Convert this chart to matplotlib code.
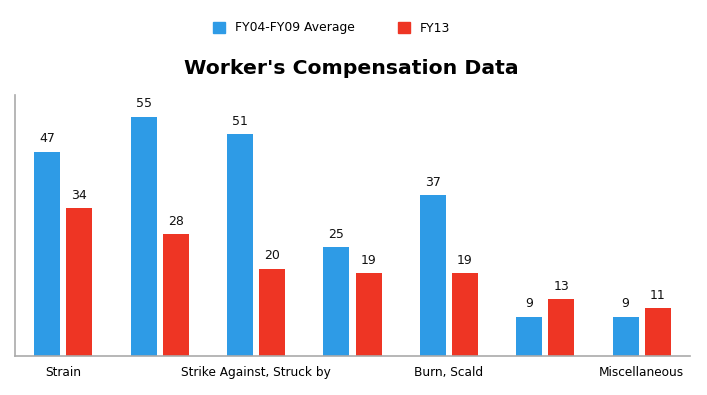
import matplotlib
matplotlib.use("Agg")
import matplotlib.pyplot as plt
import numpy as np
from matplotlib.patches import Patch

tick_labels = ["Strain", "", "Strike Against, Struck by", "", "Burn, Scald", "", "Miscellaneous"]
series_names = ["FY04-FY09 Average", "FY13"]
avg_values = [47, 55, 51, 25, 37, 9, 9]
fy13_values = [34, 28, 20, 19, 19, 13, 11]
colors = ["#2e9be6", "#ee3524"]

fig = plt.figure(figsize=(7.07, 3.95), dpi=100)
ax = fig.add_axes([15/707, 1-356/395, (690-15)/707, (356-95)/395])

x = np.arange(len(tick_labels))
w = 0.27
off = 0.167
b1 = ax.bar(x - off, avg_values, w, color=colors[0])
b2 = ax.bar(x + off, fy13_values, w, color=colors[1])
for bars, vals in ((b1, avg_values), (b2, fy13_values)):
    for r, v in zip(bars, vals):
        ax.text(r.get_x() + r.get_width()/2, v + 1.5, str(v), ha="center", va="bottom", fontsize=9, color="#111111")

ax.set_xlim(-0.5, len(tick_labels) - 0.5)
ax.set_ylim(0, 60)
ax.set_xticks(x)
ax.set_xticklabels(tick_labels, fontsize=8.7)
ax.tick_params(axis="x", length=0, pad=7)
ax.set_yticks([])
for s in ("top", "right"):
    ax.spines[s].set_visible(False)
for s in ("left", "bottom"):
    ax.spines[s].set_color("#aaaaaa")
    ax.spines[s].set_linewidth(1.2)

fig.text(351.5/707, 1-68/395, "Worker's Compensation Data", ha="center", va="center", fontsize=14.7, fontweight="bold")

handles = [Patch(color=c, label=n) for c, n in zip(colors, series_names)]
fig.legend(handles=handles, loc="center", bbox_to_anchor=(331.5/707, 1-28/395), ncol=2, frameon=False,
           fontsize=8.9, handlelength=0.95, handleheight=1.0, handletextpad=0.8, columnspacing=3.5)

fig.savefig("out.png", dpi=100)
